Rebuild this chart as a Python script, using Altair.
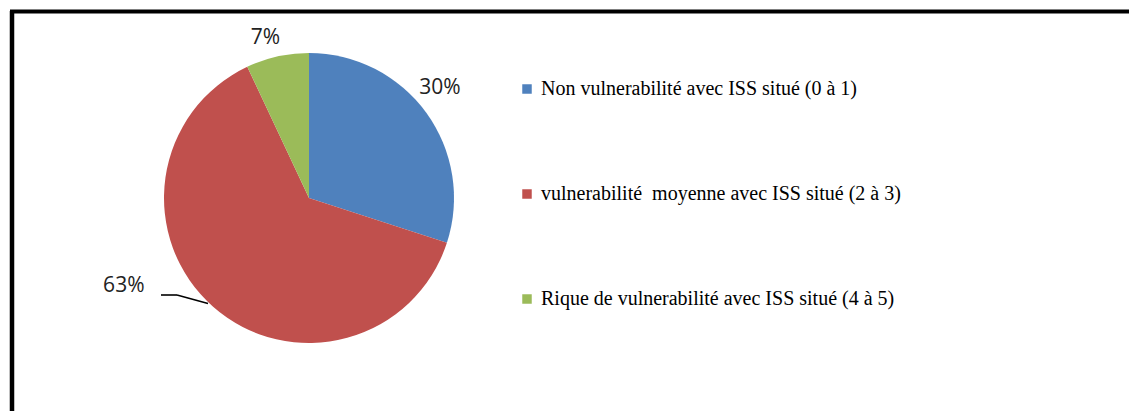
import altair as alt
import pandas as pd

categories = [
    "Non vulnerabilité avec ISS situé (0 à 1)",
    "vulnerabilité\u00a0 moyenne avec ISS situé (2 à 3)",
    "Rique de vulnerabilité avec ISS situé (4 à 5)",
]
values = [30, 63, 7]
labels = ["30%", "63%", "7%"]
colors = ["#4F81BD", "#C0504D", "#9BBB59"]

df = pd.DataFrame({"cat": categories, "value": values, "label": labels, "idx": [0, 1, 2]})

CX, CY, R = 301, 187, 145
tscale = alt.Scale(domain=[0, 100])

base = (
    alt.Chart(df)
    .transform_window(cum="sum(value)", sort=[{"field": "idx"}], frame=[None, 0])
    .transform_calculate(start="datum.cum - datum.value", mid="datum.cum - datum.value / 2")
)

pie = base.mark_arc(radius=R).encode(
    theta=alt.Theta("start:Q", scale=tscale),
    theta2="cum:Q",
    x=alt.value(CX),
    y=alt.value(CY),
    color=alt.Color(
        "cat:N",
        scale=alt.Scale(domain=categories, range=colors),
        legend=alt.Legend(
            title=None,
            orient="none",
            legendX=509,
            legendY=68,
            symbolType="square",
            symbolSize=90,
            symbolStrokeWidth=0,
            symbolOpacity=1,
            labelFont="Liberation Serif",
            labelFontSize=20,
            labelColor="black",
            labelLimit=800,
            labelOffset=4,
            rowPadding=85,
            padding=0,
        ),
    ),
)


def label_layer(i, r, off):
    return (
        base.transform_filter(f"datum.idx == {i}")
        .mark_text(radius=r, thetaOffset=off, font="Open Sans", fontSize=21, color="#222222",
                   align="center", baseline="middle")
        .encode(
            theta=alt.Theta("mid:Q", scale=tscale),
            x=alt.value(CX),
            y=alt.value(CY),
            text="label:N",
        )
    )


lab30 = label_layer(0, 171, -0.07)
lab63 = label_layer(1, 205, 0.405)
lab7 = label_layer(2, 166, -0.045)

one = alt.Chart(pd.DataFrame({"a": [0]}))
leader1 = one.mark_rule(color="black", strokeWidth=1.6).encode(
    x=alt.value(153), x2=alt.value(169), y=alt.value(284), y2=alt.value(284)
)
leader2 = one.mark_rule(color="black", strokeWidth=1.6).encode(
    x=alt.value(169), x2=alt.value(200), y=alt.value(284), y2=alt.value(292.5)
)
top_border = one.mark_rule(color="black", strokeWidth=4).encode(
    x=alt.value(2), x2=alt.value(1121), y=alt.value(0.5), y2=alt.value(0.5)
)
left_border = one.mark_rule(color="black", strokeWidth=4.5).encode(
    x=alt.value(4), x2=alt.value(4), y=alt.value(0), y2=alt.value(403)
)

chart = (
    alt.layer(pie, lab30, lab63, lab7, leader1, leader2, top_border, left_border)
    .properties(
        width=1121,
        height=403,
        padding=0,
        autosize=alt.AutoSizeParams(type="fit", contains="padding"),
        background="white",
    )
    .configure_view(strokeWidth=0)
)

chart.save("out.html", embed_options={"renderer": "svg", "actions": False})
